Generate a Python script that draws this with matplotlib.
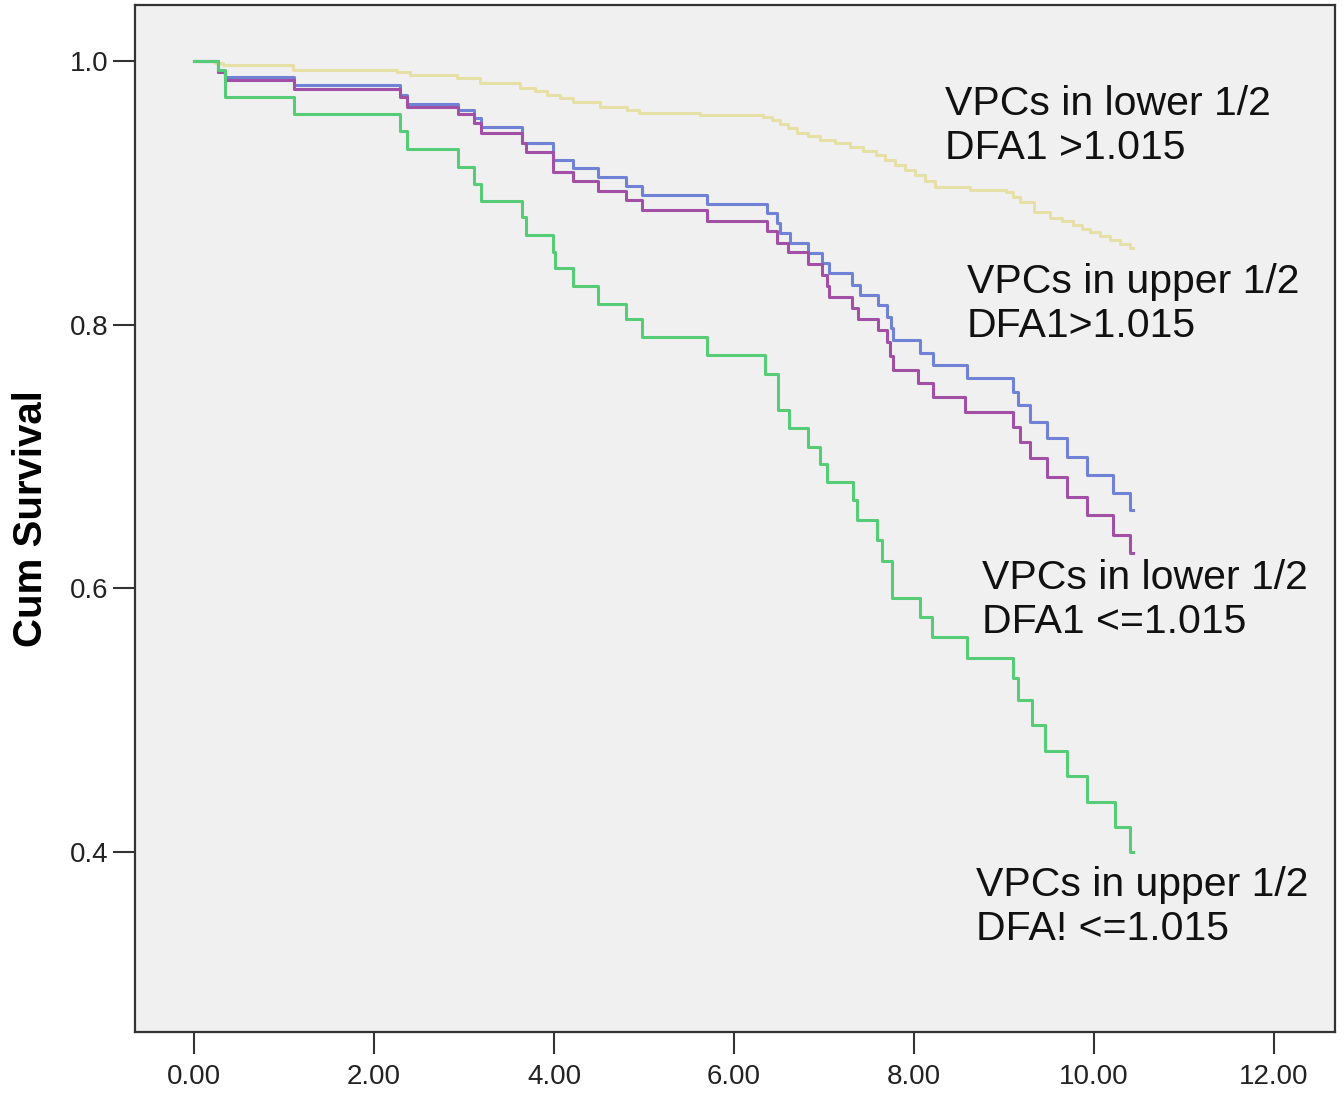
import numpy as np
import matplotlib
matplotlib.use("Agg")
import matplotlib.pyplot as plt

plt.rcParams["font.family"] = ["Liberation Sans", "DejaVu Sans"]

# step-function survival estimates (time of drop, survival after drop)
# VPCs in lower 1/2, DFA1 > 1.015
t_low_hi = [0.233, 0.322, 1.1, 2.256, 2.4, 2.922, 3.178, 3.622, 3.789, 3.922,
            4.067, 4.211, 4.511, 4.811, 4.944, 5.622, 6.322, 6.422, 6.511, 6.6,
            6.7, 6.822, 6.956, 7.122, 7.289, 7.433, 7.578, 7.678, 7.789, 7.9,
            8.011, 8.122, 8.233, 8.622, 9.022, 9.1, 9.178, 9.333, 9.511, 9.644,
            9.767, 9.867, 9.956, 10.067, 10.178, 10.289, 10.4]
s_low_hi = [0.9985, 0.997, 0.9932, 0.9917, 0.9894, 0.9871, 0.9833, 0.9795, 0.9772, 0.9742,
            0.9719, 0.9689, 0.9651, 0.9628, 0.9606, 0.959, 0.9575, 0.9552, 0.9522, 0.9492,
            0.9454, 0.9431, 0.9401, 0.9378, 0.9348, 0.9317, 0.9287, 0.9249, 0.9211, 0.9173,
            0.9135, 0.909, 0.9044, 0.9022, 0.9006, 0.8968, 0.8931, 0.8855, 0.8809, 0.8786,
            0.8756, 0.8726, 0.8703, 0.8673, 0.8642, 0.8612, 0.8582]

# VPCs in upper 1/2, DFA1 > 1.015
t_up_hi = [0.267, 0.344, 1.111, 2.289, 2.367, 2.933, 3.111, 3.189, 3.644, 3.989,
           4.211, 4.489, 4.8, 4.978, 5.7, 6.367, 6.478, 6.511, 6.622, 6.822,
           6.978, 7.056, 7.311, 7.4, 7.6, 7.7, 7.744, 7.767, 8.067, 8.211,
           8.589, 9.1, 9.156, 9.289, 9.478, 9.7, 9.922, 10.211, 10.4]
s_up_hi = [0.9917, 0.9879, 0.9818, 0.9742, 0.9674, 0.9628, 0.9568, 0.9499, 0.9378, 0.9249,
           0.9188, 0.912, 0.9052, 0.8983, 0.8915, 0.8847, 0.8771, 0.8695, 0.8619, 0.8544,
           0.8468, 0.8392, 0.8301, 0.8225, 0.8149, 0.8058, 0.7975, 0.7884, 0.7785, 0.7694,
           0.7596, 0.749, 0.7391, 0.7262, 0.7141, 0.6997, 0.686, 0.6724, 0.6595]

# VPCs in lower 1/2, DFA1 <= 1.015
t_low_lo = [0.267, 0.344, 1.111, 2.289, 2.367, 2.933, 3.111, 3.189, 3.644, 3.689,
            3.989, 4.211, 4.489, 4.8, 4.978, 5.7, 6.367, 6.478, 6.6, 6.822,
            6.978, 7.033, 7.056, 7.311, 7.378, 7.6, 7.7, 7.733, 7.767, 8.044,
            8.211, 8.567, 9.1, 9.178, 9.289, 9.478, 9.7, 9.922, 10.211, 10.4]
s_low_lo = [0.9917, 0.9856, 0.9788, 0.9727, 0.9651, 0.9598, 0.953, 0.9454, 0.9378, 0.931,
            0.9158, 0.909, 0.9014, 0.8946, 0.887, 0.8786, 0.871, 0.8619, 0.8551, 0.846,
            0.8377, 0.8293, 0.821, 0.8127, 0.8043, 0.796, 0.7869, 0.7763, 0.7656, 0.7558,
            0.7452, 0.7338, 0.7224, 0.711, 0.6989, 0.6845, 0.6693, 0.6557, 0.6405, 0.6268]

# VPCs in upper 1/2, DFA1 <= 1.015
t_up_lo = [0.267, 0.344, 1.111, 2.289, 2.367, 2.933, 3.111, 3.189, 3.644, 3.689,
           3.989, 4.011, 4.211, 4.489, 4.8, 4.978, 5.7, 6.344, 6.489, 6.611,
           6.822, 6.956, 7.033, 7.322, 7.367, 7.589, 7.644, 7.756, 8.067, 8.2,
           8.589, 9.1, 9.156, 9.311, 9.456, 9.7, 9.922, 10.233, 10.4]
s_up_lo = [0.993, 0.973, 0.96, 0.947, 0.933, 0.92, 0.907, 0.894, 0.882, 0.868,
           0.855, 0.843, 0.829, 0.816, 0.804, 0.791, 0.777, 0.763, 0.735, 0.722,
           0.707, 0.694, 0.681, 0.667, 0.652, 0.637, 0.621, 0.593, 0.578, 0.563,
           0.547, 0.532, 0.515, 0.496, 0.477, 0.458, 0.438, 0.419, 0.400]

t_end = 10.433

groups = [
    (t_low_hi, s_low_hi, "#e6dfa6"),
    (t_up_hi, s_up_hi, "#6f82d6"),
    (t_low_lo, s_low_lo, "#a24fa6"),
    (t_up_lo, s_up_lo, "#57cc77"),
]

labels = [
    ("VPCs in lower 1/2\nDFA1 >1.015", 8.344, 0.951),
    ("VPCs in upper 1/2\nDFA1>1.015", 8.589, 0.816),
    ("VPCs in lower 1/2\nDFA1 <=1.015", 8.756, 0.591),
    ("VPCs in upper 1/2\nDFA! <=1.015", 8.689, 0.358),
]

fig = plt.figure(figsize=(13.44, 10.96), dpi=100)
ax = fig.add_axes([0.1004, 0.0584, 0.8930, 0.9370])
ax.set_facecolor("#f0f0f0")

for t, s, c in groups:
    x = np.concatenate([[0.0], t, [t_end]])
    y = np.concatenate([[1.0], s, [s[-1]]])
    ax.step(x, y, where="post", color=c, lw=2.2)

for txt, tx, ty in labels:
    ax.text(tx, ty, txt, fontsize=29.5, va="center", ha="left",
            linespacing=1.2, color="#111111")

ax.set_xlim(-0.656, 12.68)
ax.set_ylim(0.2635, 1.0425)
ax.set_xticks([0, 2, 4, 6, 8, 10, 12])
ax.set_xticklabels([f"{v:.2f}" for v in [0, 2, 4, 6, 8, 10, 12]])
ax.set_yticks([0.4, 0.6, 0.8, 1.0])
ax.set_yticklabels(["0.4", "0.6", "0.8", "1.0"])
ax.tick_params(axis="both", direction="out", length=16, width=1.5,
               color="#333333", labelsize=20, labelcolor="#222222")
ax.tick_params(axis="x", pad=7)
ax.tick_params(axis="y", pad=3)
for sp in ax.spines.values():
    sp.set_linewidth(1.6)
    sp.set_color("#333333")

ax.set_ylabel("Cum Survival", fontsize=29, fontweight="bold")
ax.yaxis.set_label_coords(-0.071, 0.5)

fig.savefig("out.png", dpi=100)
